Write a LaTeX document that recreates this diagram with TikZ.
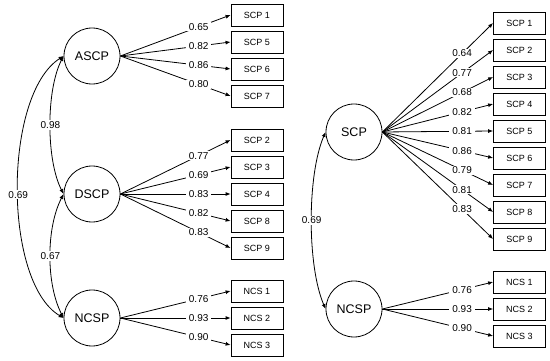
\documentclass[tikz,border=0pt]{standalone}
\usepackage{fontspec}
\setmainfont{Liberation Sans}
\usetikzlibrary{arrows.meta}
\begin{document}
\begin{tikzpicture}[x=1pt, y=-1pt, line width=0.8pt,
  latent/.style={draw,circle,minimum size=56pt,inner sep=0pt,font=\fontsize{12.5}{14}\selectfont},
  obs/.style={draw,minimum width=52pt,minimum height=22pt,inner sep=0pt,font=\fontsize{9}{10}\selectfont},
  load/.style={-{Latex[length=5pt,width=4pt]}},
  cov/.style={{Latex[length=5pt,width=4pt]}-{Latex[length=5pt,width=4pt]}},
  coef/.style={fill=white,inner xsep=3pt,inner ysep=1pt,font=\fontsize{10}{11}\selectfont}]
\useasboundingbox (0,0) rectangle (550,361);
% left model: three factors
\node[latent] (ascp) at (92,56) {ASCP};
\node[latent] (dscp) at (92,194) {DSCP};
\node[latent] (ncspl) at (92,318) {NCSP};
\node[obs] (a1) at (257,15) {SCP 1};
\node[obs] (a5) at (257,42) {SCP 5};
\node[obs] (a6) at (257,69) {SCP 6};
\node[obs] (a7) at (257,96) {SCP 7};
\node[obs] (d2) at (257,140) {SCP 2};
\node[obs] (d3) at (257,167) {SCP 3};
\node[obs] (d4) at (257,194) {SCP 4};
\node[obs] (d8) at (257,221) {SCP 8};
\node[obs] (d9) at (257,248) {SCP 9};
\node[obs] (l1) at (257,291) {NCS 1};
\node[obs] (l2) at (257,318) {NCS 2};
\node[obs] (l3) at (257,345) {NCS 3};
\draw[load] (ascp.east) -- node[coef,pos=0.71] {0.65} (a1.west);
\draw[load] (ascp.east) -- node[coef,pos=0.71] {0.82} (a5.west);
\draw[load] (ascp.east) -- node[coef,pos=0.71] {0.86} (a6.west);
\draw[load] (ascp.east) -- node[coef,pos=0.71] {0.80} (a7.west);
\draw[load] (dscp.east) -- node[coef,pos=0.71] {0.77} (d2.west);
\draw[load] (dscp.east) -- node[coef,pos=0.71] {0.69} (d3.west);
\draw[load] (dscp.east) -- node[coef,pos=0.71] {0.83} (d4.west);
\draw[load] (dscp.east) -- node[coef,pos=0.71] {0.82} (d8.west);
\draw[load] (dscp.east) -- node[coef,pos=0.71] {0.83} (d9.west);
\draw[load] (ncspl.east) -- node[coef,pos=0.71] {0.76} (l1.west);
\draw[load] (ncspl.east) -- node[coef,pos=0.71] {0.93} (l2.west);
\draw[load] (ncspl.east) -- node[coef,pos=0.71] {0.90} (l3.west);
% correlations
\draw[cov] (ascp.west) .. controls (46,90) and (46,160) .. node[coef,inner xsep=1pt] {0.98} (dscp.west);
\draw[cov] (dscp.west) .. controls (46,228) and (46,284) .. node[coef,inner xsep=1pt] {0.67} (ncspl.west);
\draw[cov] (ascp.west) .. controls (3,95) and (3,282) .. node[coef,inner xsep=1pt,pos=0.52] {0.69} (ncspl.west);
% right model: two factors
\node[latent] (scp) at (354,132) {SCP};
\node[latent] (ncspr) at (354,309) {NCSP};
\node[obs] (s1) at (519.5,23) {SCP 1};
\node[obs] (s2) at (519.5,50) {SCP 2};
\node[obs] (s3) at (519.5,77) {SCP 3};
\node[obs] (s4) at (519.5,104) {SCP 4};
\node[obs] (s5) at (519.5,131) {SCP 5};
\node[obs] (s6) at (519.5,158) {SCP 6};
\node[obs] (s7) at (519.5,185) {SCP 7};
\node[obs] (s8) at (519.5,212) {SCP 8};
\node[obs] (s9) at (519.5,239) {SCP 9};
\node[obs] (r1) at (519.5,282) {NCS 1};
\node[obs] (r2) at (519.5,309) {NCS 2};
\node[obs] (r3) at (519.5,336) {NCS 3};
\draw[load] (scp.east) -- node[coef,pos=0.72] {0.64} (s1.west);
\draw[load] (scp.east) -- node[coef,pos=0.72] {0.77} (s2.west);
\draw[load] (scp.east) -- node[coef,pos=0.72] {0.68} (s3.west);
\draw[load] (scp.east) -- node[coef,pos=0.72] {0.82} (s4.west);
\draw[load] (scp.east) -- node[coef,pos=0.72] {0.81} (s5.west);
\draw[load] (scp.east) -- node[coef,pos=0.72] {0.86} (s6.west);
\draw[load] (scp.east) -- node[coef,pos=0.72] {0.79} (s7.west);
\draw[load] (scp.east) -- node[coef,pos=0.72] {0.81} (s8.west);
\draw[load] (scp.east) -- node[coef,pos=0.72] {0.83} (s9.west);
\draw[load] (ncspr.east) -- node[coef,pos=0.72] {0.76} (r1.west);
\draw[load] (ncspr.east) -- node[coef,pos=0.72] {0.93} (r2.west);
\draw[load] (ncspr.east) -- node[coef,pos=0.72] {0.90} (r3.west);
\draw[cov] (scp.west) .. controls (307,175) and (307,266) .. node[coef,inner xsep=1pt] {0.69} (ncspr.west);
\end{tikzpicture}
\end{document}
